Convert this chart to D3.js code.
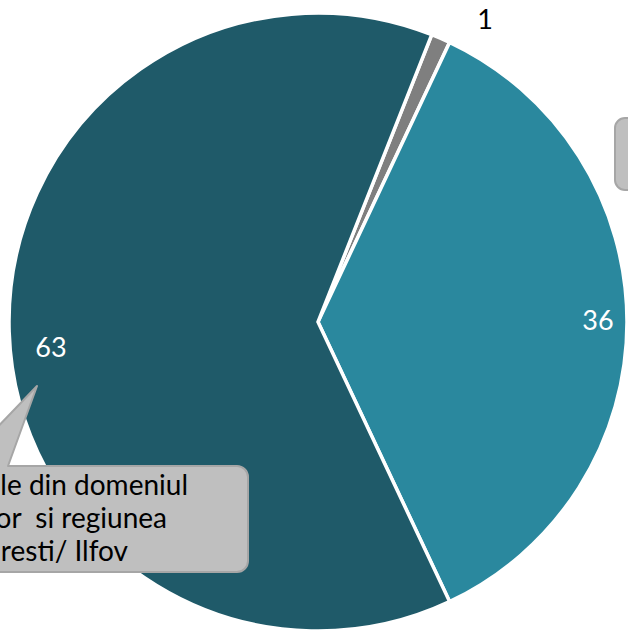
<!DOCTYPE html>
<html>
<head>
<meta charset="utf-8">
<script src="https://cdn.jsdelivr.net/npm/d3@7"></script>
<style>
  html, body { margin: 0; padding: 0; background: #fff; overflow: hidden; }
  svg { display: block; font-family: Lato, "Open Sans", sans-serif; }
  text.call { white-space: pre; }
</style>
</head>
<body>
<script>
var width = 628, height = 631;

// slice data, in drawing order (clockwise from the gray one)
var categories = ["Altele", "Alte companii", "Companiile din domeniul IT-urilor si regiunea Bucuresti/ Ilfov"];
var values = [1, 36, 63];
var colors = ["#7f7f7f", "#2a889e", "#1f5a69"];
var labelColors = ["#000", "#fff", "#fff"];

var calloutLines = ["Companiile din domeniul", "IT-urilor  si regiunea", "Bucuresti/ Ilfov"];

var cx = 318, cy = 322, radius = 309;
var start = 21.6 * Math.PI / 180;

var svg = d3.select("body")
    .append("svg")
    .attr("width", width)
    .attr("height", height);

var pie = d3.pie()
    .sort(null)
    .startAngle(start)
    .endAngle(start + 2 * Math.PI)
    .value(function (d) { return d; });

var arc = d3.arc()
    .innerRadius(0)
    .outerRadius(radius);

var arcs = pie(values);

var g = svg.append("g")
    .attr("transform", "translate(" + cx + "," + cy + ")");

g.selectAll("path")
    .data(arcs)
    .enter().append("path")
    .attr("d", arc)
    .attr("fill", function (d, i) { return colors[i]; })
    .attr("stroke", "#fff")
    .attr("stroke-width", 3.5)
    .attr("stroke-linejoin", "miter");

// value labels
var labelPos = [[167, -300], [280, 1], [-267, 28]];
g.selectAll("text.val")
    .data(arcs)
    .enter().append("text")
    .attr("class", "val")
    .attr("x", function (d, i) { return labelPos[i][0]; })
    .attr("y", function (d, i) { return labelPos[i][1]; })
    .attr("text-anchor", "middle")
    .attr("dominant-baseline", "middle")
    .attr("font-size", 27)
    .attr("fill", function (d, i) { return labelColors[i]; })
    .text(function (d) { return d.data; });

// right callout (mostly off-canvas)
svg.append("rect")
    .attr("x", 615)
    .attr("y", 118)
    .attr("width", 120)
    .attr("height", 72)
    .attr("rx", 10)
    .attr("fill", "#bfbfbf")
    .attr("stroke", "#a6a6a6")
    .attr("stroke-width", 2);

// bottom-left callout with tail
var bx0 = -140, by0 = 466, bx1 = 248, by1 = 572, r = 11;
var path = d3.path();
path.moveTo(bx0 + r, by0);
path.lineTo(-40, by0);
path.lineTo(37, 386);
path.lineTo(8, by0);
path.lineTo(bx1 - r, by0);
path.arcTo(bx1, by0, bx1, by0 + r, r);
path.lineTo(bx1, by1 - r);
path.arcTo(bx1, by1, bx1 - r, by1, r);
path.lineTo(bx0 + r, by1);
path.arcTo(bx0, by1, bx0, by1 - r, r);
path.lineTo(bx0, by0 + r);
path.arcTo(bx0, by0, bx0 + r, by0, r);
path.closePath();

svg.append("path")
    .attr("d", path.toString())
    .attr("fill", "#bfbfbf")
    .attr("stroke", "#a6a6a6")
    .attr("stroke-width", 2)
    .attr("stroke-linejoin", "round");

var lineEnds = [188, 167, 128];
svg.selectAll("text.call")
    .data(calloutLines)
    .enter().append("text")
    .attr("class", "call")
    .attr("x", function (d, i) { return lineEnds[i]; })
    .attr("y", function (d, i) { return 495 + i * 33; })
    .attr("text-anchor", "end")
    .attr("font-size", 28)
    .attr("fill", "#000")
    .text(function (d) { return d; });
</script>
</body>
</html>
